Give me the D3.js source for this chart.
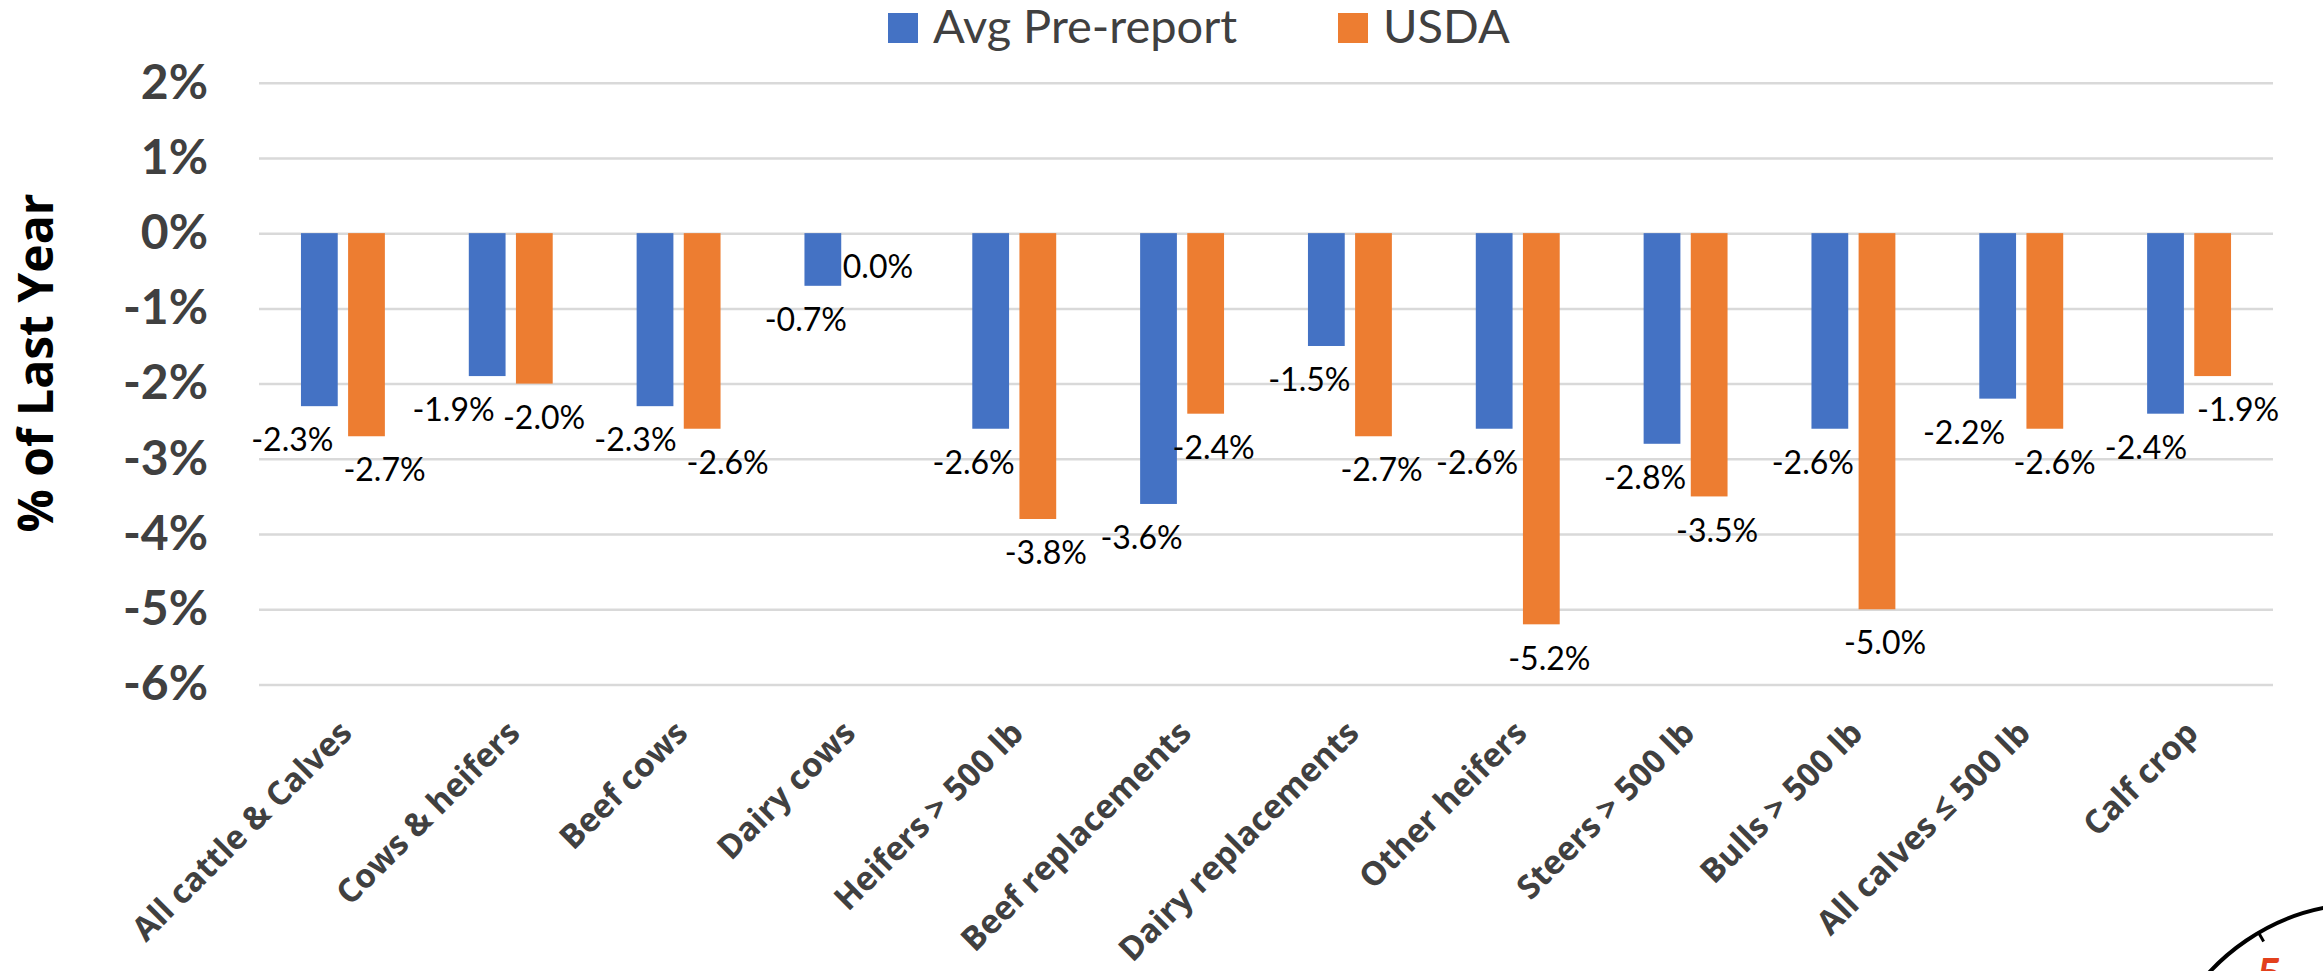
<!DOCTYPE html>
<html>
<head>
<meta charset="utf-8">
<script src="https://cdn.jsdelivr.net/npm/d3@7"></script>
<style>
  html, body { margin: 0; padding: 0; background: #fff; }
  svg { display: block; }
</style>
</head>
<body>
<div id="chart"></div>
<script>
// Chart values
const categories = [
  "All cattle & Calves", "Cows & heifers", "Beef cows", "Dairy cows",
  "Heifers > 500 lb", "Beef replacements", "Dairy replacements", "Other heifers",
  "Steers > 500 lb", "Bulls > 500 lb", "All calves \u2264 500 lb", "Calf crop"
];
const seriesNames = ["Avg Pre-report", "USDA"];
const avgPreReport = [-2.3, -1.9, -2.3, -0.7, -2.6, -3.6, -1.5, -2.6, -2.8, -2.6, -2.2, -2.4];
const usda = [-2.7, -2.0, -2.6, 0.0, -3.8, -2.4, -2.7, -5.2, -3.5, -5.0, -2.6, -1.9];
const yTicks = [2, 1, 0, -1, -2, -3, -4, -5, -6];

const width = 2323;
const height = 971;
const colors = d3.scaleOrdinal().domain(seriesNames).range(["#4472C4", "#ED7D31"]);
// blue labels sit a bit to the left, orange a bit to the right
const labelNudge = d3.scaleOrdinal().domain(seriesNames).range([-17, 8]);

// hyphen instead of the unicode minus d3.format gives
const fmtPct = v => d3.format(".1f")(v).replace("\u2212", "-") + "%";

// rows: one per category, with both series
const rows = categories.map((c, i) => ({
  category: c,
  values: [
    { series: seriesNames[0], value: avgPreReport[i] },
    { series: seriesNames[1], value: usda[i] }
  ]
}));

const svg = d3.select("#chart")
  .append("svg")
    .attr("width", width)
    .attr("height", height);

svg.append("rect")
  .attr("width", width)
  .attr("height", height)
  .attr("fill", "#fff");

const x = d3.scaleBand()
  .domain(categories)
  .range([259, 2273])
  .paddingInner(0.5)
  .paddingOuter(0.25);

const x1 = d3.scaleBand()
  .domain(seriesNames)
  .range([0, x.bandwidth()])
  .paddingInner(0.22);

const y = d3.scaleLinear()
  .domain([-6, 2])
  .range([684.5, 82.7]);

// Gridlines + y tick labels
const yAxis = svg.append("g")
  .attr("transform", `translate(${x.range()[0]},0)`)
  .call(d3.axisLeft(y)
    .tickValues(yTicks)
    .tickSize(-(x.range()[1] - x.range()[0]))
    .tickPadding(51)
    .tickFormat(d => d + "%"));

yAxis.select(".domain").remove();
yAxis.selectAll(".tick line")
  .attr("stroke", "#d9d9d9")
  .attr("stroke-width", 2.5);
yAxis.selectAll(".tick text")
  .attr("fill", "#404040")
  .style("font-family", "Lato, 'Liberation Sans', sans-serif")
  .style("font-weight", "bold")
  .style("font-size", "48px");

// Bars
const groups = svg.append("g")
  .selectAll("g")
  .data(rows)
  .join("g")
    .attr("transform", d => `translate(${x(d.category)},0)`);

groups.selectAll("rect")
  .data(d => d.values)
  .join("rect")
    .attr("x", d => x1(d.series))
    .attr("y", d => y(Math.max(0, d.value)))
    .attr("width", x1.bandwidth())
    .attr("height", d => Math.abs(y(d.value) - y(0)))
    .attr("fill", d => colors(d.series));

// Data labels (below the bar end), in one layer so collisions can be checked
const labelData = rows.flatMap(r => r.values.map(v => ({
  ...v,
  cx: x(r.category) + x1(v.series) + x1.bandwidth() / 2 + labelNudge(v.series),
  cy: y(Math.min(0, v.value)) + 34
})));

const labels = svg.append("g")
  .selectAll("text")
  .data(labelData)
  .join("text")
    .attr("x", d => d.cx)
    .attr("y", d => d.cy)
    .attr("dy", "0.35em")
    .attr("text-anchor", "middle")
    .attr("fill", "#000")
    .style("font-family", "Lato, 'Liberation Sans', sans-serif")
    .style("font-size", "32px")
    .text(d => fmtPct(d.value));

// push apart neighbouring labels that sit at nearly the same height
const nodes = labels.nodes();
labelData.forEach((d, i) => { d.w = nodes[i].getComputedTextLength(); });
for (let pass = 0; pass < 4; pass++) {
  for (let i = 0; i < labelData.length - 1; i++) {
    const a = labelData[i], b = labelData[i + 1];
    if (Math.abs(a.cy - b.cy) >= 40) continue;
    const gap = (b.cx - b.w / 2) - (a.cx + a.w / 2);
    if (gap < 10) {
      const shift = (10 - gap) / 2;
      a.cx -= shift;
      b.cx += shift;
    }
  }
}
labels.attr("x", d => d.cx);

// Category labels, rotated
const xAxis = svg.append("g")
  .attr("transform", `translate(0,735)`)
  .call(d3.axisBottom(x).tickSize(0).tickPadding(0));

xAxis.select(".domain").remove();
xAxis.selectAll(".tick text")
  .attr("y", 0)
  .attr("dy", 0)
  .attr("transform", "translate(11,0) rotate(-45)")
  .attr("text-anchor", "end")
  .attr("fill", "#404040")
  .style("font-family", "'Open Sans', 'DejaVu Sans', sans-serif")
  .style("font-weight", "bold")
  .style("font-size", "33px");

// Y axis title
svg.append("text")
  .attr("transform", `translate(53,363) rotate(-90)`)
  .attr("text-anchor", "middle")
  .attr("fill", "#000")
  .style("font-family", "'Open Sans', 'DejaVu Sans', sans-serif")
  .style("font-weight", "bold")
  .style("font-size", "48px")
  .text("% of Last Year");

// Legend
const legendX = d3.scaleOrdinal().domain(seriesNames).range([888, 1338]);
const legend = svg.append("g")
  .selectAll("g")
  .data(seriesNames)
  .join("g")
    .attr("transform", d => `translate(${legendX(d)},13)`);

legend.append("rect")
  .attr("width", 30)
  .attr("height", 30)
  .attr("fill", d => colors(d));

legend.append("text")
  .attr("x", 45)
  .attr("y", 30)
  .attr("fill", "#404040")
  .style("font-family", "Lato, 'Liberation Sans', sans-serif")
  .style("font-size", "47px")
  .text(d => d);

// Corner logo fragment (bottom right)
const logo = svg.append("g");
const cx = 2365, cy = 1115, r = 211;
logo.append("path")
  .attr("d", d3.arc()({ innerRadius: r, outerRadius: r, startAngle: -Math.PI * 0.38, endAngle: 0 }))
  .attr("transform", `translate(${cx},${cy})`)
  .attr("fill", "none")
  .attr("stroke", "#000")
  .attr("stroke-width", 4);
const tickAng = Math.atan2(-185, -108);
logo.append("line")
  .attr("x1", cx + r * Math.cos(tickAng))
  .attr("y1", cy + r * Math.sin(tickAng))
  .attr("x2", cx + (r - 10) * Math.cos(tickAng))
  .attr("y2", cy + (r - 10) * Math.sin(tickAng))
  .attr("stroke", "#000")
  .attr("stroke-width", 3);
logo.append("text")
  .attr("x", 2257)
  .attr("y", 990)
  .attr("fill", "#E2401C")
  .style("font-family", "Lato, sans-serif")
  .style("font-weight", "bold")
  .style("font-size", "44px")
  .text("5");
</script>
</body>
</html>
